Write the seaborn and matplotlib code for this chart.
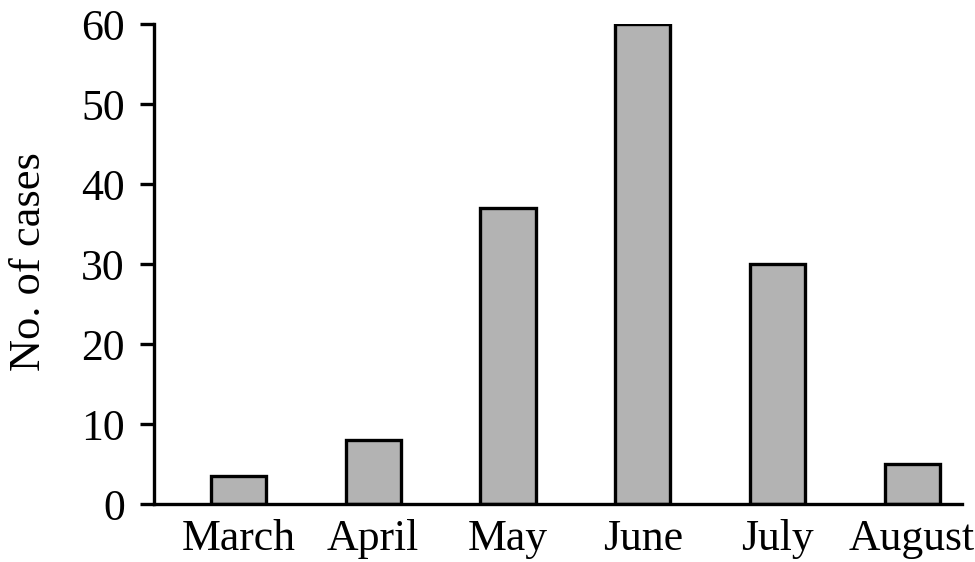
import matplotlib
matplotlib.use("Agg")
import matplotlib.pyplot as plt
import seaborn as sns
import pandas as pd

# dados
meses = ["March", "April", "May", "June", "July", "August"]
casos = [3.5, 8, 37, 60, 30, 5]
y_ticks = [0, 10, 20, 30, 40, 50, 60]

sns.set_style("ticks")
plt.rcParams['font.family'] = ['Liberation Serif', 'DejaVu Serif']

df = pd.DataFrame({"mes": meses, "casos": casos})

fig = plt.figure(figsize=(9.75, 5.62), dpi=100)
ax = fig.add_axes([154 / 975, 1 - 504 / 562, (962 - 154) / 975, (504 - 24) / 562])

sns.barplot(data=df, x="mes", y="casos", color="#b3b3b3", saturation=1,
            edgecolor="black", linewidth=2.4, width=0.41, ax=ax)

ax.set_xlim(-0.627, 5.37)
ax.set_ylim(0, 60)
ax.set_yticks(y_ticks)

for s in ["top", "right"]:
    ax.spines[s].set_visible(False)
for s in ["left", "bottom"]:
    ax.spines[s].set_linewidth(2.4)
    ax.spines[s].set_color("black")

ax.tick_params(axis="y", direction="out", length=10, width=2.4, pad=11,
               labelsize=31.5, colors="black")
ax.tick_params(axis="x", length=0, pad=11, labelsize=31.5, colors="black")

ax.set_xlabel("")
ax.set_ylabel("No. of cases", fontsize=32, color="black")
ax.yaxis.set_label_coords(-0.13, 0.505)

fig.savefig("out.png", dpi=100)
